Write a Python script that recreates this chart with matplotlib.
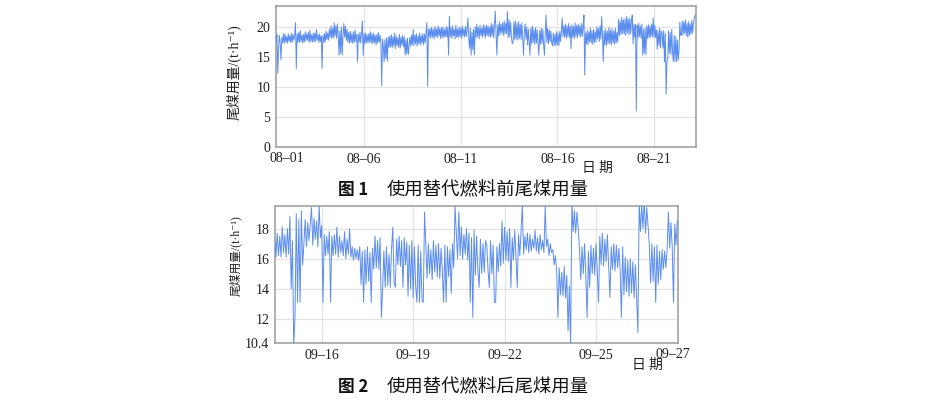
import numpy as np
import pandas as pd
import matplotlib
matplotlib.use('Agg')
import matplotlib.pyplot as plt

# ---------------- data ----------------
# Figure 1: tail-coal usage before alternative fuel (t/h), hourly readings
before_start = '2023-08-01 10:00'
before_values = [
    19.2, 17.6, 18.7, 12.3, 16.4, 18.6, 17.3, 14.5, 18.2, 17.4, 18.9, 17.2, 18.8, 17.5, 18.4, 17.3, 18.9, 17.6, 18.5, 17.4, 19.0, 17.5, 18.7, 17.8,
    18.9, 20.7, 13.1, 18.9, 17.5, 19.1, 17.4, 19.4, 17.6, 18.6, 17.3, 18.8, 17.5, 19.2, 17.7, 18.9, 17.8, 19.1, 17.4, 19.5, 17.6, 18.7, 17.5, 19.0,
    17.5, 19.0, 17.6, 19.6, 17.8, 18.7, 17.4, 18.9, 17.6, 18.4, 13.1, 18.7, 17.4, 18.9, 17.5, 19.3, 17.9, 19.0, 17.8, 19.6, 18.3, 20.2, 18.1, 19.8,
    18.2, 20.7, 18.4, 20.2, 18.1, 20.5, 18.6, 15.3, 19.4, 15.6, 20.0, 15.4, 18.5, 20.6, 18.3, 20.1, 17.8, 19.6, 17.5, 19.1, 17.3, 19.3, 17.4, 18.9,
    17.3, 19.2, 17.4, 19.5, 17.6, 18.8, 14.2, 18.8, 17.5, 19.1, 17.3, 19.0, 21.0, 15.3, 18.9, 17.2, 19.0, 17.4, 18.7, 17.3, 18.9, 17.5, 19.2, 17.3,
    18.9, 17.2, 19.0, 17.4, 18.6, 17.0, 18.8, 17.3, 19.1, 17.5, 18.6, 17.1, 10.2, 18.0, 16.8, 14.2, 17.9, 14.8, 18.2, 14.3, 18.3, 16.6, 18.5, 16.7,
    18.7, 16.5, 18.4, 16.8, 19.0, 16.4, 18.5, 16.9, 18.2, 16.6, 18.8, 16.5, 18.3, 17.0, 18.6, 16.7, 18.4, 15.3, 17.9, 15.5, 18.1, 15.4, 16.8, 18.3,
    16.8, 18.6, 17.0, 19.6, 16.9, 18.7, 17.2, 18.9, 16.8, 18.5, 17.2, 19.0, 17.0, 18.6, 17.3, 18.9, 17.0, 18.8, 17.4, 19.1, 20.7, 10.1, 19.6, 18.4,
    19.8, 18.1, 20.0, 18.3, 19.6, 18.0, 20.1, 18.4, 19.7, 18.2, 20.2, 18.5, 19.8, 18.1, 19.9, 18.3, 20.0, 18.2, 19.6, 18.4, 20.1, 18.3, 19.9, 15.3,
    21.8, 18.4, 19.9, 18.1, 20.2, 18.5, 19.6, 18.0, 20.3, 18.3, 19.7, 18.2, 20.0, 18.4, 19.8, 18.1, 20.2, 18.5, 19.7, 18.3, 20.1, 18.4, 19.6, 21.5,
    18.2, 16.4, 19.8, 15.3, 19.2, 16.2, 19.6, 15.4, 20.0, 18.2, 20.5, 18.4, 19.9, 18.0, 20.3, 18.6, 19.8, 18.3, 20.4, 18.5, 20.1, 18.2, 20.3, 18.6,
    20.2, 18.4, 20.0, 18.3, 20.6, 18.5, 20.4, 18.2, 20.3, 22.6, 18.6, 15.3, 20.4, 18.5, 20.9, 18.7, 20.5, 19.0, 20.7, 18.6, 21.0, 18.8, 20.6, 18.9,
    22.6, 18.2, 21.2, 18.4, 20.8, 18.3, 17.2, 17.4, 20.8, 17.9, 21.0, 18.0, 20.6, 17.8, 20.9, 18.1, 20.4, 17.9, 20.7, 18.2, 15.3, 19.2, 20.5, 18.0,
    20.0, 17.0, 19.6, 17.3, 15.3, 19.8, 17.2, 20.2, 17.4, 19.6, 17.1, 19.9, 17.3, 19.5, 17.2, 15.3, 19.4, 17.1, 19.8, 17.3, 19.6, 17.0, 15.3, 19.2,
    22.0, 17.4, 19.8, 17.2, 19.5, 17.6, 19.3, 17.3, 16.9, 19.0, 16.9, 18.8, 16.9, 19.2, 17.0, 18.9, 16.9, 19.3, 17.6, 19.5, 21.5, 18.4, 20.2, 18.3,
    20.5, 18.1, 20.2, 18.4, 20.6, 18.3, 20.1, 16.4, 20.4, 18.3, 20.1, 18.0, 20.7, 18.4, 20.3, 18.2, 20.5, 18.6, 20.2, 18.3, 20.6, 18.5, 20.0, 22.0,
    12.0, 19.0, 17.2, 19.5, 17.0, 19.2, 17.5, 19.8, 17.3, 19.4, 17.1, 19.6, 17.4, 19.2, 17.5, 20.0, 18.1, 19.8, 17.6, 20.2, 18.0, 21.7, 18.4, 14.2,
    19.4, 17.0, 19.6, 16.9, 19.3, 17.3, 19.9, 17.2, 19.5, 17.0, 19.7, 17.4, 19.3, 17.1, 19.8, 17.3, 19.1, 17.5, 21.3, 18.6, 21.0, 18.7, 21.6, 18.9,
    21.2, 18.8, 21.4, 18.6, 21.8, 19.0, 21.3, 18.7, 21.5, 18.9, 21.1, 22.0, 17.2, 20.5, 18.3, 20.4, 6.0, 20.3, 18.2, 20.6, 18.4, 20.2, 18.1, 20.5,
    15.3, 19.6, 15.6, 19.8, 15.4, 20.2, 18.1, 20.4, 18.2, 20.1, 18.3, 20.5, 18.4, 21.5, 18.3, 20.3, 18.2, 19.5, 16.3, 19.4, 16.9, 19.8, 16.5, 19.3,
    19.0, 16.5, 19.4, 14.2, 18.9, 8.8, 14.2, 14.6, 19.4, 15.6, 19.1, 15.4, 19.6, 15.8, 14.2, 18.6, 14.3, 18.4, 14.2, 17.8, 14.5, 16.0, 20.8, 18.6,
    18.7, 21.0, 18.6, 20.9, 19.0, 21.2, 18.5, 20.6, 18.3, 20.9, 18.6, 20.5, 18.8, 21.1, 19.0, 20.7, 21.5, 22.0,
]
before_xlim = ('2023-08-01 10:48', '2023-08-23 04:05')
before_ticks = ['2023-08-06', '2023-08-11', '2023-08-16', '2023-08-21']
before_tick_labels = ['08–06', '08–11', '08–16', '08–21']
before_edge_label = '08–01'
before_yticks = [0, 5, 10, 15, 20]
before_ylim = (0, 23.5)

# Figure 2: tail-coal usage after alternative fuel (t/h), hourly readings
after_start = '2023-09-14 10:00'
after_values = [
    16.3, 17.4, 16.1, 17.7, 16.2, 17.5, 16.1, 18.1, 16.4, 17.6, 16.1, 18.0, 16.3, 18.8, 14.0, 17.2, 10.2, 12.1, 19.0, 13.1, 18.6, 13.1, 19.2, 15.6,
    17.0, 18.6, 16.8, 18.4, 17.2, 18.3, 19.4, 16.9, 18.7, 17.3, 18.5, 16.8, 19.5, 17.4, 18.2, 13.1, 17.6, 16.2, 17.5, 16.3, 17.8, 13.1, 17.5, 16.2,
    17.6, 16.3, 18.1, 16.1, 17.5, 16.4, 17.2, 16.2, 17.8, 16.0, 17.3, 16.3, 18.0, 16.1, 16.8, 15.9, 16.7, 16.0, 16.6, 15.9, 16.8, 14.3, 16.5, 13.1,
    16.6, 14.3, 16.8, 14.5, 16.4, 13.1, 16.7, 15.3, 17.5, 15.4, 17.2, 15.3, 17.4, 12.1, 14.0, 16.5, 14.1, 16.8, 14.2, 16.3, 14.1, 16.6, 18.1, 14.4,
    14.1, 17.3, 15.6, 17.5, 15.5, 17.2, 14.1, 17.4, 15.6, 17.1, 13.5, 16.9, 14.0, 17.2, 13.4, 16.8, 14.2, 13.1, 16.9, 13.1, 16.5, 13.2, 13.1, 19.1,
    16.8, 14.7, 17.0, 15.0, 16.6, 14.6, 17.2, 15.1, 16.9, 14.8, 17.0, 14.7, 16.7, 15.2, 13.1, 16.9, 13.1, 16.8, 14.8, 16.6, 13.7, 17.0, 15.4, 19.5,
    17.8, 16.0, 19.1, 16.2, 18.1, 16.0, 17.6, 16.3, 18.0, 15.9, 17.7, 13.1, 17.4, 12.1, 17.9, 14.9, 17.5, 15.2, 14.1, 17.3, 15.0, 17.0, 15.1, 17.2,
    16.9, 15.2, 14.1, 17.2, 15.0, 16.9, 13.1, 13.1, 16.8, 15.1, 17.0, 15.5, 18.5, 15.7, 18.1, 15.9, 17.8, 15.8, 18.0, 14.1, 17.4, 15.9, 17.9, 16.1,
    14.1, 17.6, 16.2, 17.9, 19.5, 16.3, 17.5, 16.6, 17.7, 16.4, 17.6, 16.5, 17.3, 16.7, 17.9, 16.5, 17.4, 16.3, 17.6, 16.6, 17.2, 16.4, 19.5, 16.8,
    17.3, 16.2, 17.0, 16.4, 16.6, 15.6, 16.2, 15.2, 12.1, 15.4, 13.6, 15.1, 13.5, 15.5, 13.4, 14.9, 11.2, 14.2, 10.2, 19.8, 17.8, 19.2, 17.7, 19.1,
    18.0, 16.6, 14.6, 16.8, 15.0, 17.0, 14.8, 12.1, 16.5, 14.1, 16.9, 15.0, 16.7, 14.9, 17.0, 15.2, 13.1, 17.5, 15.6, 17.7, 15.5, 17.3, 15.8, 17.6,
    15.4, 13.4, 16.8, 15.3, 17.0, 15.2, 16.9, 15.4, 16.7, 15.3, 12.1, 16.8, 13.6, 16.1, 13.8, 15.9, 13.5, 16.0, 13.7, 15.8, 13.4, 15.6, 13.4, 11.1,
    19.8, 17.8, 19.6, 18.0, 19.9, 17.7, 19.4, 18.2, 16.9, 14.4, 17.0, 14.5, 16.8, 13.1, 16.9, 14.3, 16.5, 14.6, 16.6, 15.3, 16.5, 15.4, 16.6, 19.1,
    16.7, 18.4, 16.8, 13.1, 18.3, 16.9, 18.5,
]
after_xlim = ('2023-09-14 11:15', '2023-09-27 16:34')
after_ticks = ['2023-09-16', '2023-09-19', '2023-09-22', '2023-09-25']
after_tick_labels = ['09–16', '09–19', '09–22', '09–25']
after_edge_label = '09–27'
after_yticks = [10.4, 12, 14, 16, 18]
after_ylim = (10.4, 19.5)

step = '1h'
ylabel = '尾煤用量/(t·h⁻¹)'
xlabel = '日 期'
cap1_num, cap1_text = '图 1', '使用替代燃料前尾煤用量'
cap2_num, cap2_text = '图 2', '使用替代燃料后尾煤用量'

# ---------------- style ----------------
LINE = '#5b8def'
GRID = '#e3e3e3'
SPINE = '#9a9a9a'
SERIF = ['Liberation Serif', 'DejaVu Serif']
MIXED = ['Liberation Serif', 'Noto Sans CJK SC', 'DejaVu Sans']
CJK = ['Noto Sans CJK SC', 'DejaVu Sans']

W, H = 936, 400
fig = plt.figure(figsize=(W / 100, H / 100), dpi=100)


def px_axes(l, t, r, b):
    return fig.add_axes([l / W, 1 - b / H, (r - l) / W, (b - t) / H])


def draw(ax, start, values, xlim, ticks, ticklabels, yticks, ylim,
         edge_label, edge_pos, ylab_y, ylab_size, xlab_xy):
    t = pd.date_range(start, periods=len(values), freq=step)
    ax.plot(t, values, color=LINE, lw=0.7, zorder=3)
    ax.set_xlim(pd.Timestamp(xlim[0]), pd.Timestamp(xlim[1]))
    ax.set_ylim(*ylim)
    ax.set_xticks([pd.Timestamp(s) for s in ticks])
    ax.set_xticklabels(ticklabels, family=SERIF, fontsize=10)
    ax.set_yticks(yticks)
    ax.set_yticklabels([f'{v:g}' for v in yticks], family=SERIF, fontsize=10)
    ax.tick_params(length=0, pad=4, colors='#222222')
    ax.grid(True, color=GRID, lw=0.9, zorder=0)
    for s in ax.spines.values():
        s.set_color(SPINE)
        s.set_linewidth(1.1)
    ax.text(edge_pos, -0.035, edge_label, transform=ax.transAxes, ha='center',
            va='top', family=SERIF, fontsize=10, color='#222222')
    ax.set_ylabel(ylabel, family=MIXED, fontsize=ylab_size, color='#222222')
    ax.yaxis.set_label_coords(-0.081, ylab_y)
    fig.text(xlab_xy[0] / W, 1 - xlab_xy[1] / H, xlabel, family=CJK,
             fontsize=10, ha='center', va='center', color='#222222')


ax1 = px_axes(276, 6, 696, 147)
draw(ax1, before_start, before_values, before_xlim, before_ticks,
     before_tick_labels, before_yticks, before_ylim, before_edge_label,
     (287 - 276) / 420, 0.534, 10, (597, 168))

ax2 = px_axes(275, 206, 678, 343)
draw(ax2, after_start, after_values, after_xlim, after_ticks,
     after_tick_labels, after_yticks, after_ylim, after_edge_label,
     (672.7 - 275) / 403, 0.64, 8.5, (647, 365))

# captions
for num, txt, y in [(cap1_num, cap1_text, 190), (cap2_num, cap2_text, 387)]:
    fig.text(338 / W, 1 - y / H, num, family=CJK, fontsize=12,
             fontweight='bold', ha='left', va='center', color='#111111')
    fig.text(387 / W, 1 - y / H, txt, family=CJK, fontsize=13.2,
             fontweight='medium', ha='left', va='center', color='#111111')

fig.savefig('out.png', dpi=100)
